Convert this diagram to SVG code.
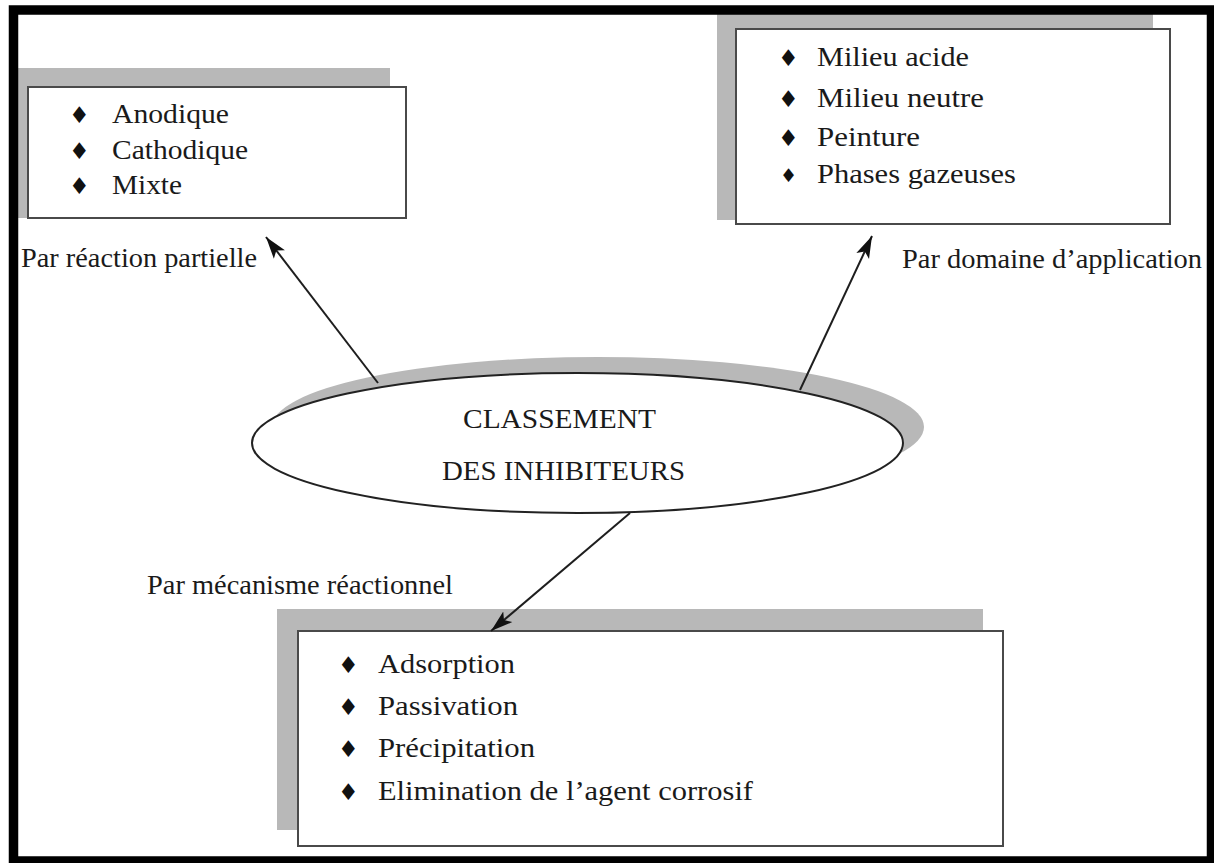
<svg xmlns="http://www.w3.org/2000/svg" width="1214" height="863" viewBox="0 0 1214 863">
<style>
.t{font-family:"Liberation Serif","Times New Roman",serif;font-size:28px;fill:#1a1a1a}
.b{font-family:"DejaVu Sans",sans-serif;font-size:23px;fill:#111}
.shadow{fill:#b8b8b8}
.box{fill:#fff;stroke:#4a4a4a;stroke-width:2}
.conn{stroke:#1e1e1e;stroke-width:2;fill:none}
</style>
<defs>
<marker id="ah" markerUnits="userSpaceOnUse" markerWidth="24" markerHeight="16" refX="22" refY="8" orient="auto">
<path d="M0,1 L22,8 L0,15 L5,8 Z" fill="#111"/>
</marker>
</defs>
<rect width="1214" height="863" fill="#fff"/>

<g id="node-reaction">
<rect class="shadow" x="14" y="68" width="376" height="150"/>
<rect class="box" x="28" y="87" width="378" height="131"/>
<text class="b" x="69" y="123">♦</text>
<text class="b" x="69" y="159">♦</text>
<text class="b" x="69" y="194">♦</text>
<text class="t" x="112" y="123" textLength="117" lengthAdjust="spacingAndGlyphs">Anodique</text>
<text class="t" x="112" y="159" textLength="136" lengthAdjust="spacingAndGlyphs">Cathodique</text>
<text class="t" x="112" y="194" textLength="70" lengthAdjust="spacingAndGlyphs">Mixte</text>
</g>

<g id="node-domaine">
<rect class="shadow" x="717" y="12" width="436" height="208"/>
<rect class="box" x="736" y="29" width="434" height="195"/>
<text class="b" x="778" y="66">♦</text>
<text class="b" x="778" y="107">♦</text>
<text class="b" x="778" y="146">♦</text>
<text class="b" x="780" y="182" style="font-size:19px">♦</text>
<text class="t" x="817" y="66" textLength="152" lengthAdjust="spacingAndGlyphs">Milieu acide</text>
<text class="t" x="817" y="107" textLength="167" lengthAdjust="spacingAndGlyphs">Milieu neutre</text>
<text class="t" x="817" y="146" textLength="103" lengthAdjust="spacingAndGlyphs">Peinture</text>
<text class="t" x="817" y="183" textLength="199" lengthAdjust="spacingAndGlyphs">Phases gazeuses</text>
</g>

<g id="node-center">
<ellipse class="shadow" cx="598" cy="427" rx="326" ry="70"/>
<ellipse cx="577.5" cy="443" rx="325.5" ry="70" fill="#fff" stroke="#222" stroke-width="2"/>
<text class="t" x="463" y="428" textLength="193" lengthAdjust="spacingAndGlyphs">CLASSEMENT</text>
<text class="t" x="442" y="480" textLength="243" lengthAdjust="spacingAndGlyphs">DES INHIBITEURS</text>
</g>

<g id="node-mecanisme">
<rect class="shadow" x="277" y="609" width="706" height="221"/>
<rect class="box" x="298" y="631" width="705" height="215"/>
<text class="b" x="338" y="673">♦</text>
<text class="b" x="338" y="715">♦</text>
<text class="b" x="338" y="757">♦</text>
<text class="b" x="338" y="800">♦</text>
<text class="t" x="378" y="673" textLength="137" lengthAdjust="spacingAndGlyphs">Adsorption</text>
<text class="t" x="378" y="715" textLength="140" lengthAdjust="spacingAndGlyphs">Passivation</text>
<text class="t" x="378" y="757" textLength="157" lengthAdjust="spacingAndGlyphs">Précipitation</text>
<text class="t" x="378" y="800" textLength="375" lengthAdjust="spacingAndGlyphs">Elimination de l’agent corrosif</text>
</g>

<g id="labels">
<text class="t" x="21" y="267" textLength="236" lengthAdjust="spacingAndGlyphs">Par réaction partielle</text>
<text class="t" x="902" y="268" textLength="300" lengthAdjust="spacingAndGlyphs">Par domaine d’application</text>
<text class="t" x="147" y="594" textLength="306" lengthAdjust="spacingAndGlyphs">Par mécanisme réactionnel</text>
</g>

<g id="connectors">
<line class="conn" x1="378" y1="383" x2="266" y2="237" marker-end="url(#ah)"/>
<line class="conn" x1="800" y1="390" x2="872" y2="236" marker-end="url(#ah)"/>
<line class="conn" x1="630" y1="513" x2="491" y2="631" marker-end="url(#ah)"/>
</g>

<rect x="13.5" y="10" width="1198" height="851" fill="none" stroke="#000" stroke-width="9.5"/>
</svg>
